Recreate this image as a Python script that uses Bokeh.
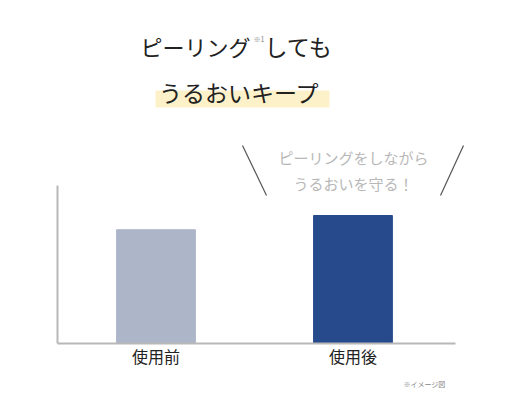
from bokeh.plotting import figure
from bokeh.models import Range1d, Label, BoxAnnotation, Arrow, FixedTicker, Title
from bokeh.embed import file_html
from bokeh.resources import INLINE

# data
categories = ["使用前", "使用後"]
values = [72, 81]
bar_colors = ["#adb5c9", "#264a8b"]
title_line1 = "ピーリング"
title_sup = "※1"
title_line1b = "しても"
title_line2 = "うるおいキープ"
note_lines = ["ピーリングをしながら", "うるおいを守る！"]
footnote = "※イメージ図"

JP = "Noto Sans CJK JP"

xpos = [i + 0.5 for i in range(len(categories))]

p = figure(width=498, height=398, x_range=Range1d(0, 2.122),
           y_range=Range1d(0, 212), output_backend="svg", toolbar_location=None,
           min_border_left=57, min_border_right=23, min_border_top=8, min_border_bottom=55)
p.outline_line_color = None
p.xgrid.grid_line_color = None
p.ygrid.grid_line_color = None
p.background_fill_color = "white"
p.border_fill_color = "white"

p.vbar(x=xpos, top=values, width=0.4, color=bar_colors)

# axes
p.xaxis.ticker = FixedTicker(ticks=xpos)
p.xaxis.major_label_overrides = {x: c for x, c in zip(xpos, categories)}
p.xaxis.bounds = (0, 2.02)
p.xaxis.axis_line_color = "#b8b8b8"
p.xaxis.axis_line_width = 2
p.xaxis.major_tick_line_color = None
p.xaxis.minor_tick_line_color = None
p.xaxis.major_label_text_font = JP
p.xaxis.major_label_text_font_size = "16px"
p.xaxis.major_label_text_color = "#222222"
p.xaxis.major_label_standoff = -6

p.yaxis.ticker = FixedTicker(ticks=[])
p.yaxis.bounds = (0, 100)
p.yaxis.axis_line_color = "#b8b8b8"
p.yaxis.axis_line_width = 2
p.yaxis.major_tick_line_color = None
p.yaxis.minor_tick_line_color = None
p.yaxis.major_label_text_font_size = "0px"

# highlight behind line 2
p.add_layout(BoxAnnotation(left=98, right=272, top=253, bottom=236,
                           left_units="screen", right_units="screen",
                           top_units="screen", bottom_units="screen",
                           fill_color="#fcefc2", fill_alpha=0.9, line_color=None, level="underlay"))

# title
p.add_layout(Label(x=83, y=298, x_units="screen", y_units="screen", text=title_line1,
                   text_font=JP, text_font_size="22px", text_color="#222222",
                   text_align="left", text_baseline="middle"))
p.add_layout(Label(x=196, y=305, x_units="screen", y_units="screen", text=title_sup,
                   text_font=JP, text_font_size="7px", text_color="#888888",
                   text_align="left", text_baseline="middle"))
p.add_layout(Label(x=207, y=298, x_units="screen", y_units="screen", text=title_line1b,
                   text_font=JP, text_font_size="23px", text_color="#222222",
                   text_align="left", text_baseline="middle"))
p.add_layout(Label(x=182, y=252, x_units="screen", y_units="screen", text=title_line2,
                   text_font=JP, text_font_size="23px", text_color="#222222",
                   text_align="center", text_baseline="middle"))

# annotation
for i, t in enumerate(note_lines):
    p.add_layout(Label(x=296, y=186 - 26 * i, x_units="screen", y_units="screen", text=t,
                       text_font=JP, text_font_size="15px", text_color="#b8b8b8",
                       text_align="center", text_baseline="middle"))
p.add_layout(Arrow(x_start=185, y_start=198, x_end=209, y_end=148,
                   start_units="screen", end_units="screen", end=None,
                   line_color="#555555", line_width=1.2))
p.add_layout(Arrow(x_start=406, y_start=198, x_end=383, y_end=148,
                   start_units="screen", end_units="screen", end=None,
                   line_color="#555555", line_width=1.2))

# footnote
p.add_layout(Title(text=footnote, align="left", offset=346, text_font=JP,
                   text_font_size="7px", text_color="#888888", text_font_style="normal",
                   vertical_align="bottom", standoff=13), "below")

open("out.html", "w").write(file_html(p, INLINE))
